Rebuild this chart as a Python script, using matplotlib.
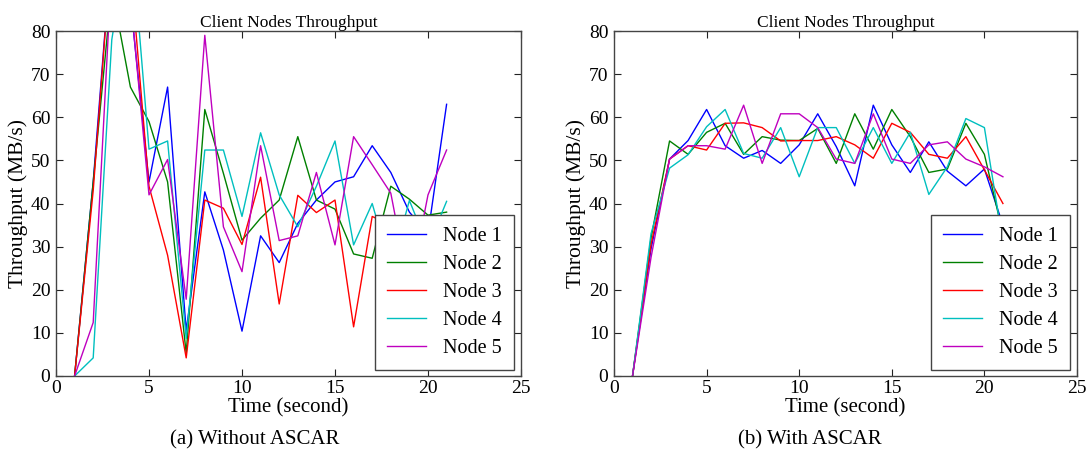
import matplotlib
matplotlib.use("Agg")
import matplotlib.pyplot as plt

plt.rcParams['font.family'] = ['Liberation Serif', 'DejaVu Serif']

time = list(range(1, 22))
labels = ["Node 1", "Node 2", "Node 3", "Node 4", "Node 5"]
colors = ["#0000ff", "#008000", "#ff0000", "#00bfbf", "#bf00bf"]

# (a) Without ASCAR
without_node1 = [0, 45, 100, 87, 45, 67, 10.5, 42.7, 29.2, 10.4, 32.5, 26.3, 35.4, 40.8, 45, 46.2, 53.4, 47.2, 38, 33, 63]
without_node2 = [0, 45, 90, 67, 59, 45, 5.3, 61.8, 47, 31.5, 36.6, 40.8, 55.5, 40.8, 38.7, 28.3, 27.3, 44, 41, 37.3, 38]
without_node3 = [0, 43, 100, 95, 44, 28, 4.2, 40.8, 38.9, 30.5, 46.1, 16.7, 41.9, 37.9, 40.8, 11.4, 37, 35, 30, 33, 36]
without_node4 = [0, 4.2, 78, 105, 52.6, 54.5, 8.7, 52.4, 52.4, 37, 56.4, 42, 34.6, 44, 54.5, 30.4, 40, 25, 40.7, 30, 40.5]
without_node5 = [0, 12.4, 95, 88, 42, 50.2, 17.8, 79, 34.6, 24.2, 53.4, 31.4, 32.5, 47.2, 30.4, 55.5, 49, 42.4, 20, 42, 52.4]

# (b) With ASCAR
with_node1 = [0, 29.5, 50.3, 54.6, 61.8, 53.4, 50.5, 52.3, 49.3, 53.6, 60.8, 53.2, 44.1, 62.8, 53.6, 47.2, 54.3, 47.5, 44.1, 48, 35]
with_node2 = [0, 32, 54.5, 51.4, 56.5, 58.6, 51.4, 55.5, 54.7, 54.6, 57.4, 49.3, 60.8, 52.6, 61.8, 55.5, 47.2, 48, 58.6, 51.4, 33]
with_node3 = [0, 30.5, 50.3, 53.4, 52.4, 58.6, 58.7, 57.6, 54.5, 54.6, 54.6, 55.5, 53.6, 50.5, 58.6, 56.5, 51.4, 50.5, 55.5, 47.8, 40]
with_node4 = [0, 33, 48.2, 51.3, 57.8, 61.8, 51.6, 50.5, 57.6, 46.2, 57.6, 57.6, 49.3, 57.6, 49.3, 56.5, 42.1, 48.5, 59.7, 57.6, 31]
with_node5 = [0, 27.5, 50.3, 53.4, 53.4, 52.6, 62.8, 49.3, 60.8, 60.8, 57.6, 50.3, 49.3, 60.8, 50.3, 49.3, 53.6, 54.3, 50.3, 48.5, 46.2]

xticks = [0, 5, 10, 15, 20, 25]
yticks = [0, 10, 20, 30, 40, 50, 60, 70, 80]

W, H = 1091, 455
fig = plt.figure(figsize=(W / 100, H / 100), dpi=100)


def make_axes(left_px, width_px, series, caption, cap_x):
    ax = fig.add_axes([left_px / W, 79 / H, width_px / W, 345 / H])
    for vals, c, lab in zip(series, colors, labels):
        ax.plot(time, vals, color=c, lw=1.0, label=lab)
    ax.set_xlim(0, 25)
    ax.set_ylim(0, 80)
    ax.set_xticks(xticks)
    ax.set_yticks(yticks)
    ax.tick_params(direction='in', top=True, right=True, length=5, width=0.8,
                   labelsize=14, color='#222222')
    ax.tick_params(axis='x', pad=3)
    ax.tick_params(axis='y', pad=4)
    for s in ax.spines.values():
        s.set_color('#444444')
        s.set_linewidth(1.0)
    ax.set_title("Client Nodes Throughput", fontsize=12.5, pad=3)
    ax.set_xlabel("Time (second)", fontsize=15, labelpad=1)
    ax.set_ylabel("Throughput (MB/s)", fontsize=15.5, labelpad=2)
    leg = ax.legend(loc='lower right', bbox_to_anchor=(0.984, 0.016), fontsize=14.5,
                    handlelength=1.9, labelspacing=0.45, borderpad=0.6,
                    handletextpad=0.85, fancybox=False, framealpha=1.0,
                    borderaxespad=0)
    leg.get_frame().set_edgecolor('#444444')
    leg.get_frame().set_linewidth(1.0)
    fig.text(cap_x / W, 1 - 440 / H, caption, ha='center', va='center', fontsize=15)
    return ax


make_axes(56, 465, [without_node1, without_node2, without_node3, without_node4, without_node5],
          "(a) Without ASCAR", 255)
make_axes(614, 463, [with_node1, with_node2, with_node3, with_node4, with_node5],
          "(b) With ASCAR", 810)

fig.savefig("out.png", dpi=100)
